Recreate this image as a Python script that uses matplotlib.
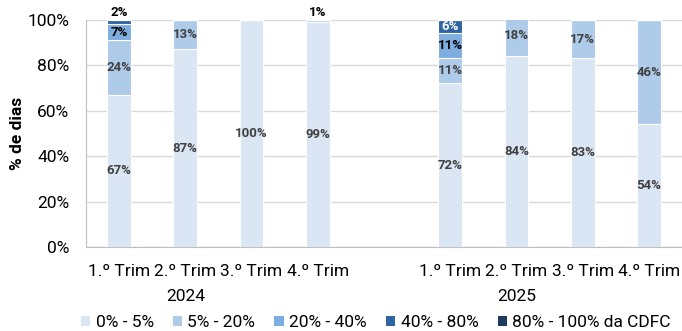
import numpy as np
import matplotlib
matplotlib.use("Agg")
from matplotlib import pyplot as plt
from matplotlib.patches import Patch

plt.rcParams["font.family"] = ["Roboto", "DejaVu Sans"]

quarters = ["1.º Trim", "2.º Trim", "3.º Trim", "4.º Trim"]
years = ["2024", "2025"]
series_names = ["0% - 5%", "5% - 20%", "20% - 40%", "40% - 80%", "80% - 100% da CDFC"]

# percentages per quarter (2024 Q1..Q4, 2025 Q1..Q4)
s_0_5 = [67, 87, 100, 99, 72, 84, 83, 54]
s_5_20 = [24, 13, 0, 1, 11, 18, 17, 46]
s_20_40 = [7, 0, 0, 0, 11, 0, 0, 0]
s_40_80 = [2, 0, 0, 0, 6, 0, 0, 0]
s_80_100 = [0, 0, 0, 0, 0, 0, 0, 0]

colors = ["#DAE6F4", "#AFCBEA", "#7EADDF", "#2E65A2", "#1F3A5C"]
label_colors = ["#404040", "#404040", "#000000", "#FFFFFF", "#FFFFFF"]

data = np.array([s_0_5, s_5_20, s_20_40, s_40_80, s_80_100], dtype=float)
pos = np.array([0, 1, 2, 3, 5, 6, 7, 8])

fig = plt.figure(figsize=(6.82, 3.31), dpi=100)
ax = fig.add_axes([0.126, 0.254, 0.874, 0.686])

bottom = np.zeros(len(pos))
for i, vals in enumerate(data):
    ax.bar(pos, vals, bottom=bottom, width=0.36, color=colors[i],
           edgecolor="white", linewidth=0.8, zorder=3, clip_on=True)
    for x, b, v in zip(pos, bottom, vals):
        if v <= 0:
            continue
        if v < 3:
            ax.text(x, 100.3, f"{v:.0f}%", ha="center", va="bottom",
                    fontsize=9.5, fontweight="bold", color="black", zorder=5)
        else:
            ax.text(x, b + v / 2, f"{v:.0f}%", ha="center", va="center",
                    fontsize=9.5, fontweight="bold", color=label_colors[i], zorder=5)
    bottom += vals

ax.set_xlim(-0.5, 8.5)
ax.set_ylim(0, 100)
ax.set_yticks(np.arange(0, 101, 20))
ax.set_yticklabels([f"{v}%" for v in range(0, 101, 20)], fontsize=12.5)
ax.set_ylabel("% de dias", fontsize=12.5, fontweight="bold", labelpad=2)
ax.grid(axis="y", color="#D9D9D9", linewidth=1, zorder=0)
ax.tick_params(axis="both", length=0)
ax.tick_params(axis="y", pad=12)
for side in ["top", "right"]:
    ax.spines[side].set_visible(False)
ax.spines["left"].set_color("#BFBFBF")
ax.spines["bottom"].set_color("#BFBFBF")

ax.set_xticks(pos)
ax.set_xticklabels(quarters * 2, fontsize=12.5)
ax.tick_params(axis="x", pad=12)
for yr, xc in zip(years, [1, 6]):
    ax.text(xc, -0.22, yr, transform=ax.get_xaxis_transform(),
            ha="center", va="center", fontsize=12.5)

handles = [Patch(facecolor=c, edgecolor="none") for c in colors]
fig.legend(handles, series_names, loc="center", bbox_to_anchor=(0.551, 0.025),
           ncol=5, frameon=False, fontsize=12.5, handlelength=0.55, handleheight=0.55,
           handletextpad=0.3, columnspacing=1.1, borderpad=0)

fig.savefig("out.png", dpi=100)
